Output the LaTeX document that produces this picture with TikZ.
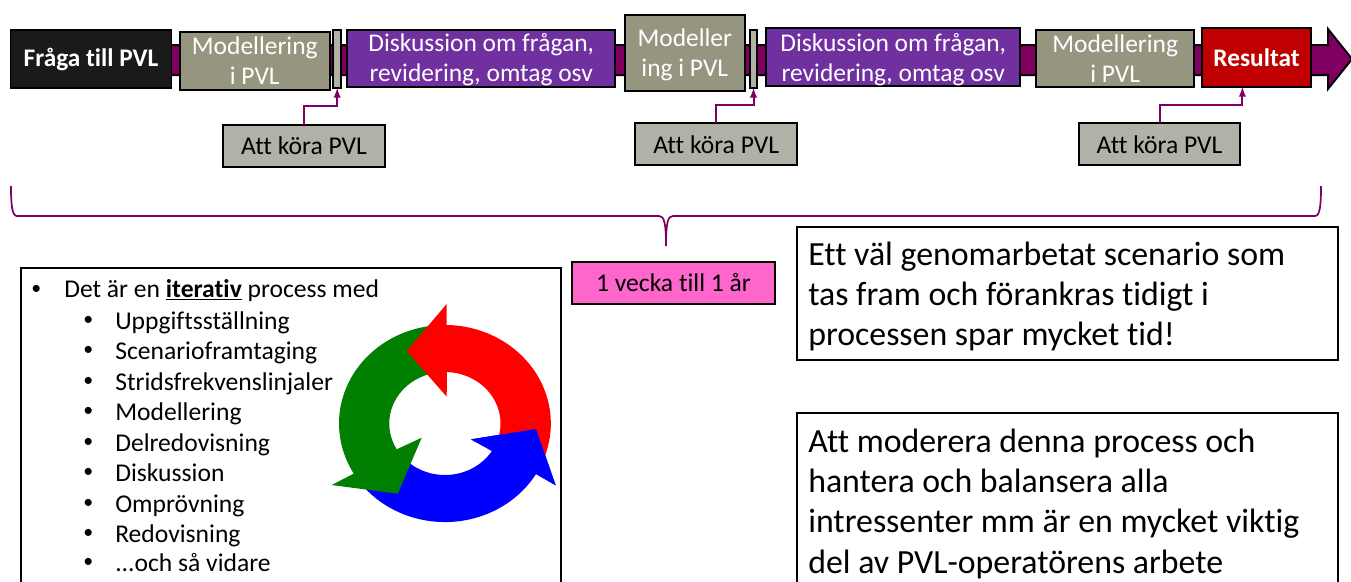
\documentclass[tikz,border=0pt]{standalone}
\usepackage{fontspec}
\setmainfont{Carlito}[Ligatures=NoCommon]
\usepackage{tikz}
\usetikzlibrary{calc,positioning}
\definecolor{barcol}{HTML}{7F0060}
\definecolor{modcol}{HTML}{969680}
\definecolor{runcol}{HTML}{B0B2A8}
\definecolor{talkcol}{HTML}{7030A0}
\definecolor{rescol}{HTML}{C00000}
\definecolor{topcol}{HTML}{1A1A1A}
\definecolor{timecol}{HTML}{FF66CC}
\definecolor{ringgreen}{HTML}{007F00}
\newcommand{\dropby}[2]{\raisebox{-#1}[\height][\depth]{#2}}
\tikzset{
  wh/.style 2 args={minimum width=#1*0.754pt,minimum height=#2*0.754pt},
  procbox/.style={draw=black,line width=1.5pt,inner sep=0pt,outer sep=0pt,align=center,text=white,
    font=\fontsize{19.2}{22.6}\selectfont},
  runbox/.style={procbox,fill=runcol,text=black,font=\fontsize{19.3}{22}\selectfont},
  runline/.style={-latex,draw=barcol,line width=1.5pt},
  listtext/.style={anchor=base west,inner sep=0pt,font=\fontsize{19.3}{22}\selectfont},
  listdot/.style={anchor=base west,inner sep=0pt,font=\fontsize{15}{17}\selectfont},
  bigtext/.style={anchor=north west,inner sep=0pt,align=left,font=\fontsize{25.5}{30.4}\selectfont},
  framebox/.style={draw=black,line width=1.2pt,fill=white}
}
\begin{document}
\begin{tikzpicture}[x=0.754pt,y=-0.754pt]
  \useasboundingbox (0,0) rectangle (1351,581);
  \clip (0,0) rectangle (1351,581);
  % process bar
  \draw [fill=barcol,line width=1.5pt] (60,45) -- (1328,45) -- (1328,29) -- (1352,59) -- (1328,89) -- (1328,75) -- (60,75) -- cycle;
  \node [procbox,wh={161}{58},fill=topcol,font=\fontsize{19.1}{22}\selectfont\bfseries] (fraga) at (91,59) {Fråga till PVL};
  \node [procbox,wh={149.5}{58},fill=modcol] (mod1) at (254.8,61) {Modellering\\i PVL};
  \node [procbox,wh={7.5}{58},fill=runcol] (thin1) at (337.2,59) {};
  \node [procbox,wh={267.6}{57},fill=talkcol] (talk1) at (481.2,58.5) {\dropby{0.8pt}{Diskussion om frågan,}\\\dropby{0.8pt}{revidering, omtag osv}};
  \node [procbox,wh={120.5}{76},fill=modcol] (mod2) at (684.8,52.5) {\dropby{1.5pt}{Modeller}\\\dropby{1.5pt}{ing i PVL}};
  \node [procbox,wh={7}{58},fill=runcol] (thin2) at (753.5,59) {};
  \node [procbox,wh={254.4}{58},fill=talkcol] (talk2) at (893.2,57) {\dropby{2.2pt}{Diskussion om frågan,}\\\dropby{2.2pt}{revidering, omtag osv}};
  \node [procbox,wh={157.6}{57},fill=modcol] (mod3) at (1115.2,58.5) {Modellering\\i PVL};
  \node [procbox,wh={109}{59},fill=rescol,font=\fontsize{19.1}{22}\selectfont\bfseries] (res) at (1256.5,57.5) {Resultat};
  \node [runbox,wh={161.3}{41.5}] (run1) at (304,145.8) {Att köra PVL};
  \node [runbox,wh={161.7}{41.5}] (run2) at (716.2,144) {\dropby{0.8pt}{Att köra PVL}};
  \node [runbox,wh={161}{41.5}] (run3) at (1159.5,144) {\dropby{0.8pt}{Att köra PVL}};
  \coordinate (resin) at (1242.4,87);
  \draw [runline] (run1.north) -- ($(run1.north)+(0,-19)$) -| (thin1.south);
  \draw [runline] (run2.north) -- ($(run2.north)+(0,-18)$) -| (thin2.south);
  \draw [runline] (run3.north) -- ($(run3.north)+(0,-18)$) -| (resin);
  % brace
  \draw [barcol,line width=1.3pt] (11,186) .. controls (11,205) and (12,216) .. (17,216) -- (659,216)
    .. controls (664,216) and (666,222) .. (666,246) .. controls (666,222) and (668,216) .. (673,216) -- (1315,216)
    .. controls (1320,216) and (1321,205) .. (1321,186);
  \node [procbox,wh={203}{42},fill=timecol,text=black,line width=1.2pt,font=\fontsize{19.3}{22}\selectfont] (time) at (673.5,283) {1 vecka till 1 år};
  % list
  \node [framebox,wh={540}{340}] (listbox) at (291,438) {};
  \node [listdot] (b0) at (31,294.6) {•};
  \node [listtext] (t0) at (64,297) {Det är en \underline{\textbf{iterativ}} process med};
  \node [listdot] (b1) at (83,325.6) {•};
  \node [listtext] (t1) at (115,329) {Uppgiftsställning};
  \node [listdot] (b2) at (83,355.6) {•};
  \node [listtext] (t2) at (115,359) {Scenarioframtaging};
  \node [listdot] (b3) at (83,386.6) {•};
  \node [listtext] (t3) at (115,390) {Stridsfrekvenslinjaler};
  \node [listdot] (b4) at (83,416.6) {•};
  \node [listtext] (t4) at (115,420) {Modellering};
  \node [listdot] (b5) at (83,447.6) {•};
  \node [listtext] (t5) at (115,451) {Delredovisning};
  \node [listdot] (b6) at (83,477.6) {•};
  \node [listtext] (t6) at (115,481) {Diskussion};
  \node [listdot] (b7) at (83,508.6) {•};
  \node [listtext] (t7) at (115,512) {Omprövning};
  \node [listdot] (b8) at (83,538.6) {•};
  \node [listtext] (t8) at (115,542) {Redovisning};
  \node [listdot] (b9) at (83,567.6) {•};
  \node [listtext] (t9) at (115,571) {...och så vidare};
  % ring
  \fill [blue] (555.7,485.3) -- (536,474) arc [start angle=30.8,end angle=140,x radius=106,y radius=98.5]
    -- ($(445,423.5)+(130:55.5 and 51.5)$) arc [start angle=130,end angle=32.2,x radius=55.5,y radius=51.5]
    -- (471,439.3) -- (536,429) -- cycle;
  \fill [ringgreen] ($(445,423.5)+(262:106 and 98.5)$) arc [start angle=262,end angle=149.4,x radius=106,y radius=98.5]
    -- (331.7,485) -- (397.7,493.7) -- (421.7,437.7) -- (396.7,449.3)
    arc [start angle=150,end angle=255,x radius=55.5,y radius=51.5] -- cycle;
  \fill [red] (446.7,304) -- (446.7,325) arc [start angle=-89,end angle=20,x radius=106,y radius=98.5]
    -- ($(445,423.5)+(13:55.5 and 51.5)$) arc [start angle=13,end angle=-88,x radius=55.5,y radius=51.5]
    -- (446.7,396.7) -- (406.7,351) -- cycle;
  \fill [blue] (555.7,485.3) -- (536,474) -- (492,451) -- (471,439.3) -- (536,429) -- cycle;
  % notes
  \node [framebox,wh={541}{133}] (note1) at (1067.5,293.5) {};
  \node [bigtext] (note1text) at (808,241.5) {Ett väl genomarbetat scenario som\\tas fram och förankras tidigt i\\processen spar mycket tid!};
  \node [framebox,wh={541}{200}] (note2) at (1067.5,513) {};
  \node [bigtext] (note2text) at (808,428.5) {Att moderera denna process och\\hantera och balansera alla\\intressenter mm är en mycket viktig\\del av PVL-operatörens arbete};
\end{tikzpicture}
\end{document}
